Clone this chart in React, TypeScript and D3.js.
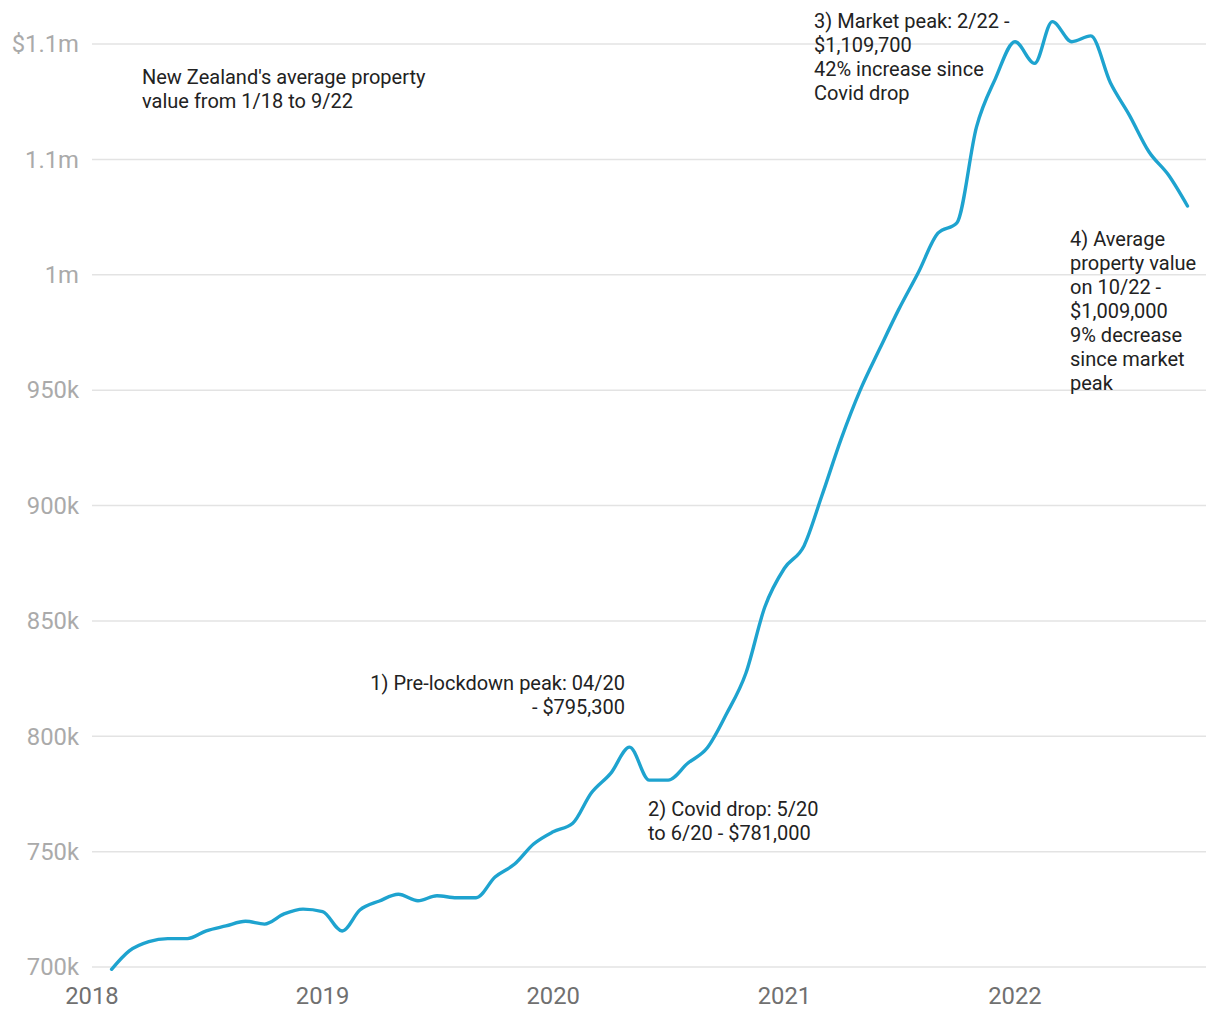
import React from "react";
import * as d3 from "d3";

const months: string[] = [
  "2018-01","2018-02","2018-03","2018-04","2018-05","2018-06","2018-07","2018-08","2018-09","2018-10","2018-11","2018-12",
  "2019-01","2019-02","2019-03","2019-04","2019-05","2019-06","2019-07","2019-08","2019-09","2019-10","2019-11","2019-12",
  "2020-01","2020-02","2020-03","2020-04","2020-05","2020-06","2020-07","2020-08","2020-09","2020-10","2020-11","2020-12",
  "2021-01","2021-02","2021-03","2021-04","2021-05","2021-06","2021-07","2021-08","2021-09","2021-10","2021-11","2021-12",
  "2022-01","2022-02","2022-03","2022-04","2022-05","2022-06","2022-07","2022-08","2022-09",
];

const values: number[] = [
  699000, 707000, 711000, 712300, 712300, 715700, 717800, 719800, 718600, 723000, 725100, 724000,
  715600, 724700, 728600, 731500, 728700, 730900, 730000, 730000, 739000, 744600, 753300, 758600,
  762300, 775300, 783900, 795300, 781000, 781000, 788300, 795000, 809500, 827300, 856000, 872800,
  882500, 904000, 929000, 950000, 968000, 985000, 1001000, 1018000, 1022500, 1064000, 1085000, 1101000,
  1091600, 1109700, 1101000, 1103500, 1083200, 1069200, 1053300, 1043200, 1029800,
];

const yTicks: number[] = [700000, 750000, 800000, 850000, 900000, 950000, 1000000, 1050000, 1100000];
const yTickLabels: string[] = ["700k", "750k", "800k", "850k", "900k", "950k", "1m", "1.1m", "$1.1m"];
const xTickYears: number[] = [2018, 2019, 2020, 2021, 2022];

const titleLines: string[] = ["New Zealand's average property", "value from 1/18 to 9/22"];
const note1: string[] = ["1) Pre-lockdown peak: 04/20", "- $795,300"];
const note2: string[] = ["2) Covid drop: 5/20", "to 6/20 - $781,000"];
const note3: string[] = ["3) Market peak: 2/22 -", "$1,109,700", "42% increase since", "Covid drop"];
const note4: string[] = ["4) Average", "property value", "on 10/22 -", "$1,009,000", "9% decrease", "since market", "peak"];

const W = 1220;
const H = 1020;
const FONT = "Roboto, 'Noto Sans', sans-serif";

function endOfMonth(s: string): Date {
  const [y, m] = s.split("-").map(Number);
  return new Date(y, m, 1); // first day of next month = end of month
}

export default function App() {
  const x = d3.scaleTime().domain([new Date(2018, 0, 1), new Date(2022, 0, 1)]).range([92, 1015]);
  const y = d3.scaleLinear().domain([700000, 1100000]).range([967, 44]);
  const data = months.map((m, i) => ({ d: endOfMonth(m), v: values[i] }));
  const line = d3
    .line<{ d: Date; v: number }>()
    .x((p) => x(p.d))
    .y((p) => y(p.v))
    .curve(d3.curveMonotoneX);

  const textBlock = (lines: string[], px: number, py: number, anchor: string) =>
    lines.map((t, i) => (
      <text key={i} x={px} y={py + i * 24} textAnchor={anchor} fontSize={20} fill="#222" fontFamily={FONT}>
        {t}
      </text>
    ));

  return (
    <svg width={W} height={H} style={{ position: "absolute", left: 0, top: 0, background: "#fff" }}>
      {yTicks.map((t, i) => (
        <g key={t}>
          <line x1={92} x2={1206} y1={y(t)} y2={y(t)} stroke="#e3e3e3" strokeWidth={1.5} />
          <text x={79} y={y(t)} dy="0.35em" textAnchor="end" fontSize={23.8} fill="#aaaaaa" fontFamily={FONT}>
            {yTickLabels[i]}
          </text>
        </g>
      ))}
      {xTickYears.map((yr) => (
        <text key={yr} x={x(new Date(yr, 0, 1))} y={1004} textAnchor="middle" fontSize={23.8} fill="#707070" fontFamily={FONT}>
          {yr}
        </text>
      ))}
      <path d={line(data) || ""} fill="none" stroke="#1ea3cf" strokeWidth={3.4} strokeLinejoin="round" strokeLinecap="round" />
      {textBlock(titleLines, 142, 84, "start")}
      {textBlock(note1, 625, 690, "end")}
      {textBlock(note2, 648, 816, "start")}
      {textBlock(note3, 814, 28, "start")}
      {textBlock(note4, 1070, 246, "start")}
    </svg>
  );
}
